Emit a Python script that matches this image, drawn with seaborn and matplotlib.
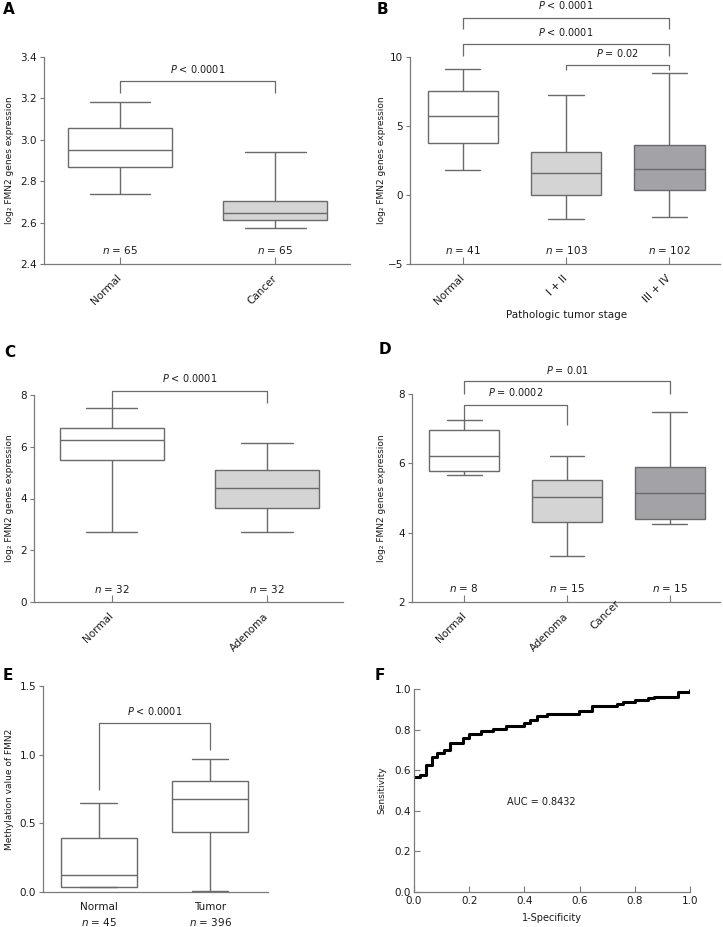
import numpy as np
import pandas as pd
import matplotlib
matplotlib.use("Agg")
import matplotlib.pyplot as plt
import seaborn as sns

# ---------------- data ----------------
# Panel A  (min, Q1, median, Q3, max)
a_groups = ["Normal", "Cancer"]
a_normal = [2.739, 2.869, 2.953, 3.056, 3.183]
a_cancer = [2.574, 2.614, 2.648, 2.702, 2.939]
a_n = [65, 65]

# Panel B
b_groups = ["Normal", "I + II", "III + IV"]
b_normal = [1.78, 3.80, 5.76, 7.56, 9.11]
b_stage12 = [-1.77, -0.03, 1.63, 3.08, 7.28]
b_stage34 = [-1.62, 0.33, 1.92, 3.63, 8.82]
b_n = [41, 103, 102]

# Panel C
c_groups = ["Normal", "Adenoma"]
c_normal = [2.69, 5.50, 6.28, 6.71, 7.48]
c_adenoma = [2.72, 3.63, 4.39, 5.11, 6.13]
c_n = [32, 32]

# Panel D
d_groups = ["Normal", "Adenoma", "Cancer"]
d_normal = [5.66, 5.78, 6.22, 6.97, 7.25]
d_adenoma = [3.34, 4.31, 5.02, 5.52, 6.22]
d_cancer = [4.26, 4.38, 5.14, 5.90, 7.48]
d_n = [8, 15, 15]

# Panel E
e_groups = ["Normal", "Tumor"]
e_normal = [0.035, 0.037, 0.123, 0.390, 0.651]
e_tumor = [0.005, 0.435, 0.680, 0.810, 0.972]
e_n = [45, 396]

# Panel F  (ROC curve, step points)
f_fpr = [0.0, 0.022, 0.0435, 0.064, 0.085, 0.109, 0.131, 0.177, 0.201, 0.242,
         0.288, 0.334, 0.397, 0.421, 0.445, 0.481, 0.599, 0.644, 0.734, 0.756,
         0.801, 0.849, 0.870, 0.958, 1.0]
f_tpr = [0.567, 0.577, 0.624, 0.665, 0.685, 0.701, 0.735, 0.760, 0.779, 0.792,
         0.802, 0.820, 0.832, 0.848, 0.866, 0.875, 0.893, 0.918, 0.926, 0.938,
         0.946, 0.954, 0.962, 0.987, 0.995]
f_auc = 0.8432

# ---------------- style ----------------
sns.set_style("ticks")
plt.rcParams["font.family"] = ["DejaVu Sans"]
plt.rcParams["mathtext.fontset"] = "dejavusans"

W, H = 723, 927
fig = plt.figure(figsize=(W / 100, H / 100), dpi=100)

EDGE = "#6a6a6a"
SPINE = "#7a7a7a"
TXT = "#1a1a1a"
WHITE = "#ffffff"
LIGHT = "#d4d4d4"
DARK = "#a2a2a7"
TICK_FS = 7.5
ANN_FS = 7
YLAB_FS = 6.5


def add_ax(l, t, r, b):
    return fig.add_axes([l / W, 1 - b / H, (r - l) / W, (b - t) / H])


def style_axes(ax):
    sns.despine(ax=ax)
    for s in ("left", "bottom"):
        ax.spines[s].set_color(SPINE)
        ax.spines[s].set_linewidth(0.9)
    ax.tick_params(axis="y", direction="out", length=3, width=0.8, color=SPINE,
                   labelsize=TICK_FS, labelcolor=TXT, pad=2)
    ax.tick_params(axis="x", direction="in", length=5, width=0.8, color=SPINE,
                   labelsize=TICK_FS, labelcolor=TXT)


def box_panel(ax, groups, values, colors, width, capw):
    df = pd.DataFrame({
        "group": np.repeat(groups, [len(v) for v in values]),
        "value": np.concatenate(values),
    })
    sns.boxplot(data=df, x="group", y="value", hue="group", order=groups,
                hue_order=groups, palette=dict(zip(groups, colors)),
                whis=(0, 100), width=width, saturation=1, linecolor=EDGE,
                linewidth=1.0, legend=False, dodge=False, capwidths=capw, ax=ax)
    ax.set_xlabel("")
    style_axes(ax)


def set_ylabel(ax, text, xpx):
    ax.set_ylabel(text, fontsize=YLAB_FS, color=TXT)
    ax.yaxis.set_label_coords(xpx / W, 0.5, transform=fig.transFigure)
    ax.yaxis.label.set_va("center")
    # y center at the axes' middle
    pos = ax.get_position()
    ax.yaxis.set_label_coords(xpx / W, pos.y0 + pos.height / 2, transform=fig.transFigure)


def rot_labels(ax, labels, pad=4):
    ax.set_xticks(range(len(labels)))
    ax.set_xticklabels(labels, rotation=45, ha="right", va="center",
                       rotation_mode="anchor")
    ax.tick_params(axis="x", pad=pad + 5)


def bracket(ax, x1, x2, y, y1_end, y2_end, text, ty, tx=None):
    ax.plot([x1, x1, x2, x2], [y1_end, y, y, y2_end], color=EDGE, lw=0.9,
            clip_on=False, solid_capstyle="butt")
    ax.text((x1 + x2) / 2 if tx is None else tx, ty, text, ha="center",
            va="center", fontsize=ANN_FS, color=TXT)


def n_labels(ax, ns, y):
    for i, n in enumerate(ns):
        ax.text(i, y, f"$n$ = {n}", ha="center", va="center",
                fontsize=TICK_FS, color=TXT)


def letter(xpx, ypx, s):
    fig.text(xpx / W, 1 - ypx / H, s, fontsize=11, fontweight="bold",
             ha="center", va="center", color="black")


# ---------------- Panel A ----------------
axA = add_ax(44, 57, 350, 264)
box_panel(axA, a_groups, [a_normal, a_cancer], [WHITE, LIGHT], 0.67, 0.39)
axA.set_xlim(-0.49, 1.48)
axA.set_ylim(2.4, 3.4)
axA.set_yticks(np.arange(2.4, 3.41, 0.2))
axA.set_yticklabels([f"{v:.1f}" for v in np.arange(2.4, 3.41, 0.2)])
rot_labels(axA, a_groups)
set_ylabel(axA, "log₂ FMN2 genes expression", 10)
bracket(axA, 0, 1, 3.286, 3.226, 3.226, "$P$ < 0.0001", 3.344)
n_labels(axA, a_n, 2.47)
letter(9, 9, "A")

# ---------------- Panel B ----------------
axB = add_ax(410, 57, 720, 264)
box_panel(axB, b_groups, [b_normal, b_stage12, b_stage34], [WHITE, LIGHT, DARK],
          0.68, 0.34)
axB.set_xlim(-0.51, 2.49)
axB.set_ylim(-5, 10)
axB.set_yticks([-5, 0, 5, 10])
rot_labels(axB, b_groups)
set_ylabel(axB, "log₂ FMN2 genes expression", 382)
axB.set_xlabel("Pathologic tumor stage", fontsize=TICK_FS, color=TXT)
axB.xaxis.set_label_coords(567 / W, 1 - 315 / H, transform=fig.transFigure)
axB.xaxis.label.set_va("center")
bracket(axB, 0, 2, 12.85, 12.05, 12.05, "$P$ < 0.0001", 13.74)
bracket(axB, 0, 2, 10.96, 10.1, 10.1, "$P$ < 0.0001", 11.81)
bracket(axB, 1, 2, 9.45, 9.04, 9.04, "$P$ = 0.02", 10.29)
n_labels(axB, b_n, -3.99)
letter(382, 9, "B")

# ---------------- Panel C ----------------
axC = add_ax(34, 395, 343, 602)
box_panel(axC, c_groups, [c_normal, c_adenoma], [WHITE, LIGHT], 0.67, 0.33)
axC.set_xlim(-0.50, 1.49)
axC.set_ylim(0, 8)
axC.set_yticks([0, 2, 4, 6, 8])
rot_labels(axC, c_groups)
set_ylabel(axC, "log₂ FMN2 genes expression", 10)
bracket(axC, 0, 1, 8.17, 7.48, 7.70, "$P$ < 0.0001", 8.65)
n_labels(axC, c_n, 0.52)
letter(10, 352, "C")

# ---------------- Panel D ----------------
axD = add_ax(412, 394, 720, 602)
box_panel(axD, d_groups, [d_normal, d_adenoma, d_cancer], [WHITE, LIGHT, DARK],
          0.68, 0.34)
axD.set_xlim(-0.51, 2.49)
axD.set_ylim(2, 8)
axD.set_yticks([2, 4, 6, 8])
rot_labels(axD, [d_groups[0], d_groups[1], ""])
axD.text(1.5, 0, d_groups[2], transform=axD.get_xaxis_transform(),
         rotation=45, ha="right", va="center", rotation_mode="anchor",
         fontsize=TICK_FS, color=TXT)
set_ylabel(axD, "log₂ FMN2 genes expression", 382)
bracket(axD, 0, 2, 8.37, 8.0, 8.0, "$P$ = 0.01", 8.70)
bracket(axD, 0, 1, 7.68, 7.25, 7.11, "$P$ = 0.0002", 8.05, tx=0.5)
n_labels(axD, d_n, 2.39)
letter(385, 350, "D")

# ---------------- Panel E ----------------
axE = add_ax(43, 686, 268, 892)
box_panel(axE, e_groups, [e_normal, e_tumor], [WHITE, WHITE], 0.68, 0.33)
axE.set_xlim(-0.50, 1.52)
axE.set_ylim(0, 1.5)
axE.set_yticks([0, 0.5, 1.0, 1.5])
axE.set_yticklabels(["0.0", "0.5", "1.0", "1.5"])
axE.set_xticks([0, 1])
axE.set_xticklabels(e_groups)
axE.tick_params(axis="x", length=0, pad=7)
set_ylabel(axE, "Methylation value of FMN2", 10)
bracket(axE, 0, 1, 1.234, 0.743, 1.033, "$P$ < 0.0001", 1.32)
for i, n in enumerate(e_n):
    axE.text(i, -0.146, f"$n$ = {n}", transform=axE.get_xaxis_transform(),
             ha="center", va="center", fontsize=TICK_FS, color=TXT)
letter(8, 675, "E")

# ---------------- Panel F ----------------
axF = add_ax(414, 689, 690, 892)
sns.lineplot(x=f_fpr, y=f_tpr, drawstyle="steps-post", color="black",
             linewidth=2.2, estimator=None, sort=False, ax=axF)
axF.set_xlim(0, 1)
axF.set_ylim(0, 1)
axF.set_xticks(np.arange(0, 1.01, 0.2))
axF.set_yticks(np.arange(0, 1.01, 0.2))
axF.set_xticklabels([f"{v:.1f}" for v in np.arange(0, 1.01, 0.2)])
axF.set_yticklabels([f"{v:.1f}" for v in np.arange(0, 1.01, 0.2)])
style_axes(axF)
axF.tick_params(axis="y", direction="in", length=4)
axF.tick_params(axis="x", direction="in", length=4, pad=3)
axF.set_xlabel("1-Specificity", fontsize=YLAB_FS + 0.5, color=TXT)
axF.xaxis.set_label_coords(552 / W, 1 - 918 / H, transform=fig.transFigure)
axF.xaxis.label.set_va("center")
set_ylabel(axF, "Sensitivity", 382)
axF.text(0.46, 0.443, f"AUC = {f_auc}", ha="center", va="center",
         fontsize=ANN_FS, color=TXT)
letter(380, 675, "F")

fig.savefig("out.png", dpi=100)
